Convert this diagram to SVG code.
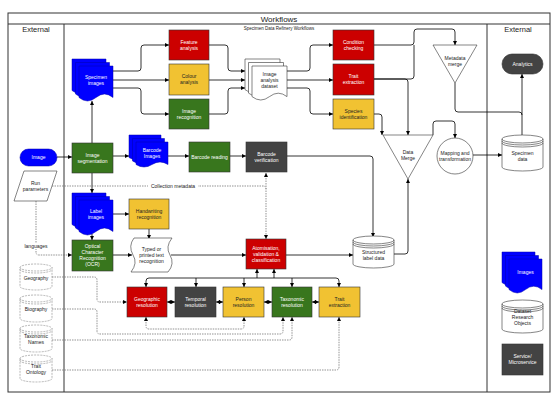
<svg xmlns="http://www.w3.org/2000/svg" width="559" height="400" viewBox="0 0 559 400">
<defs>
<style>
.t{font-family:"Liberation Sans",Arial,sans-serif;font-size:5px;text-anchor:middle}
.w{fill:#fff}.k{fill:#222}
.red{fill:#cc0000;stroke:#333;stroke-width:0.6}
.yel{fill:#f1c232;stroke:#333;stroke-width:0.6}
.grn{fill:#38761d;stroke:#333;stroke-width:0.6}
.drk{fill:#434343;stroke:#333;stroke-width:0.6}
.blu{fill:#0000ff;stroke:#0000aa;stroke-width:0.5}
.wht{fill:#fff;stroke:#333;stroke-width:0.6}
.cyl{fill:#fff;stroke:#333;stroke-width:0.6}
.cyg{fill:#fff;stroke:#888;stroke-width:0.6;stroke-dasharray:2 1}
.ln{fill:none;stroke:#333;stroke-width:0.6}
.lg{fill:none;stroke:#888;stroke-width:0.6;stroke-dasharray:2 1}
.e{fill:none;stroke:#000;stroke-width:0.8;marker-end:url(#a)}
.n{fill:none;stroke:#000;stroke-width:0.8}
.b{fill:none;stroke:#000;stroke-width:0.8;marker-end:url(#a);marker-start:url(#a)}
.d{fill:none;stroke:#666;stroke-width:0.7;stroke-dasharray:1.5 1;marker-end:url(#a)}
.dn{fill:none;stroke:#666;stroke-width:0.7;stroke-dasharray:1.5 1}
.db{fill:none;stroke:#666;stroke-width:0.7;stroke-dasharray:1.5 1;marker-end:url(#a);marker-start:url(#a)}
.frame{fill:none;stroke:#333;stroke-width:1}
</style>
<marker id="a" viewBox="0 0 6 6" refX="6" refY="3" markerWidth="4" markerHeight="4" markerUnits="userSpaceOnUse" orient="auto-start-reverse"><path d="M0,0 L6,3 L0,6 z" fill="#000"/></marker>
</defs>
<rect width="559" height="400" fill="#fff"/>

<g id="frame">
<rect class="frame" x="8" y="13" width="542" height="379"/>
<line class="frame" x1="8" y1="24" x2="550" y2="24"/>
<line class="frame" x1="64" y1="24" x2="64" y2="392"/>
<line class="frame" x1="487" y1="24" x2="487" y2="392"/>
<text class="t k" x="279" y="21.5" style="font-size:8px">Workflows</text>
<text class="t k" x="36" y="32" style="font-size:7.5px">External</text>
<text class="t k" x="518" y="32" style="font-size:7.5px">External</text>
<text class="t k" x="279" y="30" style="font-size:4.5px">Specimen Data Refinery Workflows</text>
</g>

<g id="connectors">
<path class="e" d="M113 71 H138 Q141 71 141 68 V48 Q141 45 144 45 H169"/>
<path class="e" d="M113 80 H169"/>
<path class="e" d="M113 88 H138 Q141 88 141 91 V111 Q141 114 144 114 H169"/>
<path class="e" d="M209 45 H225 Q228 45 228 48 V68 Q228 71 231 71 H245"/>
<path class="e" d="M209 80 H245"/>
<path class="e" d="M209 114 H225 Q228 114 228 111 V91 Q228 88 231 88 H245"/>
<path class="e" d="M287 71 H307 Q310 71 310 68 V48 Q310 45 313 45 H333"/>
<path class="e" d="M287 80 H333"/>
<path class="e" d="M287 88 H307 Q310 88 310 91 V111 Q310 114 313 114 H333"/>
<path class="e" d="M374 45 H411 Q414 45 414 42 V32 Q414 29 417 29 H452 Q455 29 455 32 V45"/>
<path class="n" d="M374 79 H411 Q414 79 414 76 V45"/>
<path class="e" d="M374 79 H405 Q408 79 408 82 V135"/>
<path class="e" d="M374 114 H379 Q382 114 382 117 V135"/>
<path class="e" d="M433 135 V124 Q433 121 436 121 H452 Q455 121 455 124 V138"/>
<path class="n" d="M455 83 V109 Q455 112 458 112 H519 Q522 112 522 115"/>
<path class="e" d="M522 135 V74"/>
<path class="e" d="M473 155 H502"/>
<path class="e" d="M57 157 H72"/>
<path class="e" d="M92 143 V101"/>
<path class="e" d="M113 156 H129"/>
<path class="e" d="M168 156 H189"/>
<path class="e" d="M230 156 H246"/>
<path class="e" d="M287 156 H370 Q373 156 373 159 V237"/>
<path class="e" d="M92 173 V193"/>
<path class="e" d="M113 214 H129"/>
<path class="e" d="M92 234 V240"/>
<path class="e" d="M149 229 V239"/>
<path class="e" d="M113 255 H132"/>
<path class="e" d="M171 255 H246"/>
<path class="e" d="M286 255 H353"/>
<path class="e" d="M394 254 H405 Q408 254 408 251 V179"/>
<path class="dn" d="M52 186 H263 Q266 186 266 189"/>
<path class="db" d="M266 173 V239"/>
<path class="d" d="M36 201 V252 Q36 255 39 255 H72"/>
<path class="b" d="M146 287 V281 Q146 278 149 278 H336 Q339 278 339 281 V287"/>
<path class="e" d="M196 278 V287"/>
<path class="e" d="M244 278 V287"/>
<path class="e" d="M292 278 V287"/>
<path class="e" d="M257 278 V269"/>
<path class="e" d="M274 278 V269"/>
<path class="b" d="M167 302 H175"/>
<path class="b" d="M216 302 H223"/>
<path class="b" d="M264 302 H272"/>
<path class="b" d="M312 302 H319"/>
<path class="d" d="M52 277 H94 Q97 277 97 280 V299 Q97 302 100 302 H127"/>
<path class="db" d="M146 317 V326 Q146 329 149 329 H241 Q244 329 244 326 V317"/>
<path class="d" d="M52 309 H94 Q97 309 97 312 V331 Q97 334 100 334 H280 Q283 334 283 331 V317"/>
<path class="d" d="M52 340 H289 Q292 340 292 337 V317"/>
<path class="d" d="M52 370 H336 Q339 370 339 367 V317"/>
<rect x="148" y="183.5" width="50" height="5" fill="#fff"/>
<text class="t k" x="173" y="187.8">Collection metadata</text>
<rect x="24" y="243" width="24" height="6" fill="#fff"/>
<text class="t k" x="36" y="247.8">languages</text>
</g>

<g id="specimen-images">
<path class="blu" d="M72 59 H106 V90.5 Q97.5 83.5 89 90.5 Q80.5 97.5 72 90.5 Z"/>
<path class="blu" d="M75.5 62.5 H109.5 V94 Q101 87 92.5 94 Q84 101 75.5 94 Z"/>
<path class="blu" d="M79 66 H113 V97.5 Q104.5 90.5 96 97.5 Q87.5 104.5 79 97.5 Z"/>
<text class="t w" x="96" y="78.8">Specimen<tspan x="96" dy="6">images</tspan></text>
</g>
<g id="feature-analysis"><rect class="red" x="169" y="30" width="40" height="30"/><text class="t w" x="189" y="43.8">Feature<tspan x="189" dy="6">analysis</tspan></text></g>
<g id="colour-analysis"><rect class="yel" x="169" y="64" width="40" height="31"/><text class="t k" x="189" y="78.3">Colour<tspan x="189" dy="6">analysis</tspan></text></g>
<g id="image-recognition"><rect class="grn" x="169" y="99" width="40" height="30"/><text class="t w" x="189" y="112.8">Image<tspan x="189" dy="6">recognition</tspan></text></g>
<g id="image-analysis-dataset">
<path class="wht" d="M245 59 H280 V89.6 Q271.25 82.8 262.5 89.6 Q253.75 96.4 245 89.6 Z"/>
<path class="wht" d="M248.5 62.5 H283.5 V93.1 Q274.75 86.3 266 93.1 Q257.25 99.9 248.5 93.1 Z"/>
<path class="wht" d="M252 66 H287 V96.6 Q278.25 89.8 269.5 96.6 Q260.75 103.4 252 96.6 Z"/>
<text class="t k" x="269.5" y="76">Image<tspan x="269.5" dy="6">analysis</tspan><tspan x="269.5" dy="6">dataset</tspan></text>
</g>
<g id="condition-checking"><rect class="red" x="333" y="30" width="41" height="30"/><text class="t w" x="353.5" y="43.8">Condition<tspan x="353.5" dy="6">checking</tspan></text></g>
<g id="trait-extraction-1"><rect class="red" x="333" y="64" width="41" height="31"/><text class="t w" x="353.5" y="78.3">Trait<tspan x="353.5" dy="6">extraction</tspan></text></g>
<g id="species-identification"><rect class="yel" x="333" y="99" width="41" height="30"/><text class="t k" x="353.5" y="112.8">Species<tspan x="353.5" dy="6">identification</tspan></text></g>
<g id="metadata-merge"><polygon class="wht" points="433,45 477,45 455,83"/><text class="t k" x="455" y="60">Metadata<tspan x="455" dy="6">merge</tspan></text></g>
<g id="analytics"><rect class="drk" x="502" y="54" width="41" height="20" rx="10"/><text class="t w" x="522.5" y="65.8">Analytics</text></g>
<g id="specimen-data">
<path class="cyl" d="M502 139 A20.5 4 0 0 1 543 139 V167 A20.5 4 0 0 1 502 167 Z"/>
<path class="ln" d="M502 139 A20.5 4 0 0 0 543 139 M502 141 A20.5 4 0 0 0 543 141 M502 143 A20.5 4 0 0 0 543 143"/>
<text class="t k" x="522.5" y="155">Specimen<tspan x="522.5" dy="6">data</tspan></text>
</g>
<g id="data-merge"><polygon class="wht" points="383,135 433,135 408,179"/><text class="t k" x="408" y="154">Data<tspan x="408" dy="6">Merge</tspan></text></g>
<g id="mapping"><circle class="wht" cx="455" cy="156" r="18"/><text class="t k" x="455" y="154.8">Mapping and<tspan x="455" dy="6">transformation</tspan></text></g>
<g id="image"><rect class="blu" x="20" y="149" width="37" height="17" rx="8.5"/><text class="t w" x="38.5" y="159.3">Image</text></g>
<g id="run-parameters"><polygon class="wht" points="24,171 57,171 47,201 14,201"/><text class="t k" x="35.5" y="184.8">Run<tspan x="35.5" dy="6">parameters</tspan></text></g>
<g id="image-segmentation"><rect class="grn" x="72" y="143" width="41" height="30"/><text class="t w" x="92.5" y="156.8">Image<tspan x="92.5" dy="6">segmentation</tspan></text></g>
<g id="barcode-images">
<path class="blu" d="M129 135 H161 V157.5 Q153 152.5 145 157.5 Q137 162.5 129 157.5 Z"/>
<path class="blu" d="M132.5 138.5 H164.5 V161 Q156.5 156 148.5 161 Q140.5 166 132.5 161 Z"/>
<path class="blu" d="M136 142 H168 V164.5 Q160 159.5 152 164.5 Q144 169.5 136 164.5 Z"/>
<text class="t w" x="152" y="152">Barcode<tspan x="152" dy="6">Images</tspan></text>
</g>
<g id="barcode-reading"><rect class="grn" x="189" y="142" width="41" height="30"/><text class="t w" x="209.5" y="158.8">Barcode reading</text></g>
<g id="barcode-verification"><rect class="drk" x="246" y="142" width="41" height="30"/><text class="t w" x="266.5" y="155.8">Barcode<tspan x="266.5" dy="6">verification</tspan></text></g>
<g id="label-images">
<path class="blu" d="M72 193 H106 V224.5 Q97.5 217.5 89 224.5 Q80.5 231.5 72 224.5 Z"/>
<path class="blu" d="M75.5 196.5 H109.5 V228 Q101 221 92.5 228 Q84 235 75.5 228 Z"/>
<path class="blu" d="M79 200 H113 V231.5 Q104.5 224.5 96 231.5 Q87.5 238.5 79 231.5 Z"/>
<text class="t w" x="96" y="212.8">Label<tspan x="96" dy="6">images</tspan></text>
</g>
<g id="handwriting"><rect class="yel" x="129" y="199" width="40" height="30"/><text class="t k" x="149" y="212.8">Handwriting<tspan x="149" dy="6">recognition</tspan></text></g>
<g id="ocr"><rect class="grn" x="72" y="240" width="41" height="31"/><text class="t w" x="92.5" y="248.3">Optical<tspan x="92.5" dy="6">Character</tspan><tspan x="92.5" dy="6">Recognition</tspan><tspan x="92.5" dy="6">(OCR)</tspan></text></g>
<g id="typed-text"><path class="wht" d="M134 238 L172 238 Q165 247 170 255 Q175 264 168 272 L131 272 Q138 263 133 255 Q128 246 134 238 Z"/><text class="t k" x="151.5" y="250.8">Typed or<tspan x="151.5" dy="6">printed text</tspan><tspan x="151.5" dy="6">recognition</tspan></text></g>
<g id="atomisation"><rect class="red" x="246" y="239" width="40" height="30"/><text class="t w" x="266" y="249.8">Atomisation,<tspan x="266" dy="6">validation &amp;</tspan><tspan x="266" dy="6">classification</tspan></text></g>
<g id="structured-label-data">
<path class="cyl" d="M353 240 A20.5 4 0 0 1 394 240 V264 A20.5 4 0 0 1 353 264 Z"/>
<path class="ln" d="M353 240 A20.5 4 0 0 0 394 240 M353 242 A20.5 4 0 0 0 394 242 M353 244 A20.5 4 0 0 0 394 244"/>
<text class="t k" x="373.5" y="254">Structured<tspan x="373.5" dy="6">label data</tspan></text>
</g>
<g id="geographic-resolution"><rect class="red" x="127" y="287" width="40" height="30"/><text class="t w" x="147" y="300.8">Geographic<tspan x="147" dy="6">resolution</tspan></text></g>
<g id="temporal-resolution"><rect class="drk" x="175" y="287" width="41" height="30"/><text class="t w" x="195.5" y="300.8">Temporal<tspan x="195.5" dy="6">resolution</tspan></text></g>
<g id="person-resolution"><rect class="yel" x="223" y="287" width="41" height="30"/><text class="t k" x="243.5" y="300.8">Person<tspan x="243.5" dy="6">resolution</tspan></text></g>
<g id="taxonomic-resolution"><rect class="grn" x="272" y="287" width="40" height="30"/><text class="t w" x="292" y="300.8">Taxonomic<tspan x="292" dy="6">resolution</tspan></text></g>
<g id="trait-extraction-2"><rect class="yel" x="319" y="287" width="41" height="30"/><text class="t k" x="339.5" y="300.8">Trait<tspan x="339.5" dy="6">extraction</tspan></text></g>
<g id="geography">
<path class="cyg" d="M20 267.5 A16 3.5 0 0 1 52 267.5 V286.5 A16 3.5 0 0 1 20 286.5 Z"/>
<path class="lg" d="M20 267.5 A16 3.5 0 0 0 52 267.5 M20 269.5 A16 3.5 0 0 0 52 269.5"/>
<text class="t k" x="36" y="279.5">Geography</text>
</g>
<g id="biography">
<path class="cyg" d="M20 298.5 A16 3.5 0 0 1 52 298.5 V318.5 A16 3.5 0 0 1 20 318.5 Z"/>
<path class="lg" d="M20 298.5 A16 3.5 0 0 0 52 298.5 M20 300.5 A16 3.5 0 0 0 52 300.5"/>
<text class="t k" x="36" y="311">Biography</text>
</g>
<g id="taxonomic-names">
<path class="cyg" d="M20 328.5 A16 3.5 0 0 1 52 328.5 V348.5 A16 3.5 0 0 1 20 348.5 Z"/>
<path class="lg" d="M20 328.5 A16 3.5 0 0 0 52 328.5 M20 330.5 A16 3.5 0 0 0 52 330.5"/>
<text class="t k" x="36" y="338">Taxonomic<tspan x="36" dy="6">Names</tspan></text>
</g>
<g id="trait-ontology">
<path class="cyg" d="M20 358.5 A16 3.5 0 0 1 52 358.5 V378.5 A16 3.5 0 0 1 20 378.5 Z"/>
<path class="lg" d="M20 358.5 A16 3.5 0 0 0 52 358.5 M20 360.5 A16 3.5 0 0 0 52 360.5"/>
<text class="t k" x="36" y="368">Trait<tspan x="36" dy="6">Ontology</tspan></text>
</g>
<g id="legend-images">
<path class="blu" d="M502 252 H535 V282.6 Q526.75 275.8 518.5 282.6 Q510.25 289.4 502 282.6 Z"/>
<path class="blu" d="M505.5 255.5 H538.5 V286.1 Q530.25 279.3 522 286.1 Q513.75 292.9 505.5 286.1 Z"/>
<path class="blu" d="M509 259 H542 V289.6 Q533.75 282.8 525.5 289.6 Q517.25 296.4 509 289.6 Z"/>
<text class="t w" x="525.5" y="274">Images</text>
</g>
<g id="legend-dataset">
<path class="cyl" d="M502 304 A20.5 4 0 0 1 543 304 V329 A20.5 4 0 0 1 502 329 Z"/>
<path class="ln" d="M502 304 A20.5 4 0 0 0 543 304 M502 306 A20.5 4 0 0 0 543 306 M502 308 A20.5 4 0 0 0 543 308"/>
<text class="t k" x="522.5" y="313">Dataset<tspan x="522.5" dy="6">Research</tspan><tspan x="522.5" dy="6">Objects</tspan></text>
</g>
<g id="legend-service"><rect class="drk" x="502" y="344" width="41" height="31"/><text class="t w" x="522.5" y="358.3">Service/<tspan x="522.5" dy="6">Microservice</tspan></text></g>
</svg>
